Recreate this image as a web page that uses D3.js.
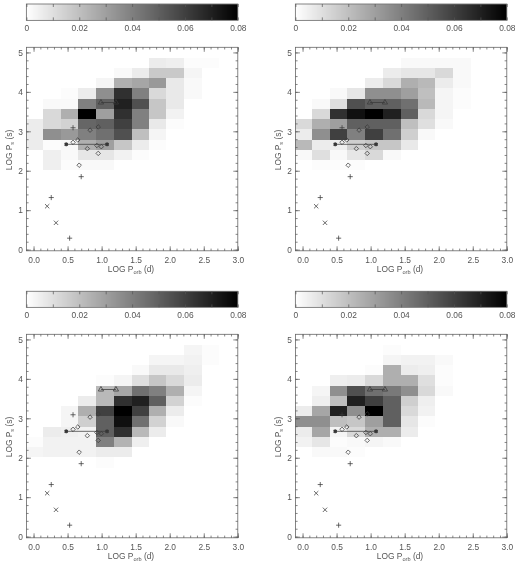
<!DOCTYPE html>
<html><head><meta charset="utf-8">
<script src="https://cdn.jsdelivr.net/npm/d3@7"></script>
<style>
html,body{margin:0;padding:0;background:#fff}
svg{display:block;filter:blur(0.4px)}
text{font-family:"Liberation Sans",Arial,sans-serif;fill:#555;font-size:8.4px}
</style></head><body>
<svg id="c" width="520" height="564"></svg>
<script>
// bin edges in data units (columns: LOG Porb, rows: LOG Ps, top row first)
const xEdges=[-0.11,0.146,0.404,0.66,0.92,1.18,1.44,1.69,1.95,2.21,2.47,2.72];
const yEdges=[4.87,4.61,4.35,4.09,3.83,3.57,3.31,3.05,2.79,2.53,2.27,2.01,1.75];
const barTicks=[0,0.02,0.04,0.06,0.08];
const xTickLabels=[0,0.5,1,1.5,2,2.5,3];
const yTickLabels=[0,1,2,3,4,5];
// fractions read from grey level of each cell
const heatA=[
[0,0,0,0,0,0,0,.006,.005,.001,.001],
[0,0,0,0,0,.002,.006,.017,.017,.003,0],
[0,0,0,0,.003,.025,.028,.032,.007,.002,0],
[0,0,.001,.006,.035,.065,.04,.012,.007,.002,0],
[0,.002,.002,.04,.05,.07,.055,.018,.007,0,0],
[0,.012,.025,.08,.03,.065,.04,.018,.004,0,0],
[.006,.012,.014,.048,.05,.06,.04,.007,.001,0,0],
[.006,.035,.032,.04,.045,.055,.02,.003,0,0,0],
[.006,.001,.002,.025,.03,.018,.006,.001,0,0,0],
[0,.005,.002,.008,.008,.004,.001,0,0,0,0],
[0,.005,.001,.002,.002,0,0,0,0,0,0],
[0,0,0,0,0,0,0,0,0,0,0]];
const heatB=[
[0,0,0,0,0,0,.002,.002,.002,.002,0],
[0,0,0,0,0,.006,.008,.008,.012,.002,0],
[0,0,0,0,.006,.012,.025,.022,.006,.002,0],
[0,0,.002,.008,.035,.035,.03,.02,.003,.001,0],
[0,.002,.01,.055,.05,.05,.045,.022,.003,.001,0],
[0,.012,.065,.075,.08,.07,.05,.012,.003,0,0],
[.012,.025,.03,.05,.05,.05,.02,.01,.002,0,0],
[.006,.035,.06,.04,.06,.045,.015,.002,0,0,0],
[.022,.006,.005,.015,.018,.018,.007,0,0,0,0],
[.002,.01,.002,.008,.012,.002,0,0,0,0,0],
[0,.001,.001,.001,0,0,0,0,0,0,0],
[0,0,0,0,0,0,0,0,0,0,0]];
const heatC=[
[0,0,0,0,0,0,0,0,0,.003,.001],
[0,0,0,0,0,0,0,.003,.003,.004,.001],
[0,0,0,0,0,0,.002,.007,.007,.005,0],
[0,0,0,0,.001,.003,.01,.018,.012,.006,0],
[0,0,0,0,.022,.028,.045,.04,.025,.003,0],
[0,0,0,.006,.022,.065,.07,.05,.014,.001,0],
[0,0,.003,.025,.06,.08,.06,.025,.006,0,0],
[0,0,.003,.015,.05,.075,.045,.014,.002,0,0],
[0,.006,.005,.004,.05,.065,.022,.006,0,0,0],
[.001,.004,.004,.004,.04,.024,.005,0,0,0,0],
[.003,.004,.004,.004,.006,.006,0,0,0,0,0],
[0,0,0,0,.001,0,0,0,0,0,0]];
const heatD=[
[0,0,0,0,0,.001,0,0,0,0,0],
[0,0,0,0,0,.003,.004,.004,.002,0,0],
[0,0,0,0,.001,.025,.006,.005,.001,0,0],
[0,0,.005,.006,.012,.025,.025,.01,.001,0,0],
[0,.003,.035,.055,.045,.042,.035,.012,.002,0,0],
[0,.005,.02,.07,.06,.05,.015,.005,0,0,0],
[.006,.028,.07,.035,.08,.05,.012,.004,0,0,0],
[.035,.035,.02,.018,.03,.05,.008,.001,0,0,0],
[.006,.028,.003,.012,.025,.025,.006,0,0,0,0],
[.004,.008,.001,.002,.003,.002,0,0,0,0,0],
[0,.002,.002,.001,0,0,0,0,0,0,0],
[0,0,0,0,0,0,0,0,0,0,0]];
const panelHeats=[heatA,heatB,heatC,heatD];
// object markers, [LOG Porb, LOG Ps]
const diamonds=[[.58,2.72],[.65,2.78],[.83,3.03],[.95,3.11],[.79,2.56],[.93,2.64],[.995,2.61],[.95,2.44],[.67,2.14]];
const pluses=[[.58,3.09],[.70,1.85],[.26,1.32],[.53,.29]];
const crosses=[[.2,1.1],[.33,.68]];
const triangles=[[.99,3.73],[1.21,3.73]];
const stars=[[.48,2.67],[1.08,2.67]];

const svg=d3.select("#c");
const ink="#555";
const gray=d3.scaleLinear().domain([0,.08]).range(["#ffffff","#000000"]);
const panelOrigins=[[0,0],[269,0],[0,287],[269,287]];

function minorTicks(a,b,s){return d3.range(Math.round((b-a)/s)+1).map(i=>+(a+i*s).toFixed(3));}
function styleAxis(g){g.select(".domain").remove();g.selectAll("line").attr("stroke",ink).attr("stroke-width",.7);}

panelHeats.forEach((heat,pi)=>{
  const [ox,oy]=panelOrigins[pi];
  const g=svg.append("g").attr("transform",`translate(${ox},${oy})`);
  const L=26.4,R=237.8,T=47.3,B=250.8;
  const x=d3.scaleLinear().domain([-0.105,3.0]).range([L,R]);
  const y=d3.scaleLinear().domain([-0.03,5.13]).range([B,T]);

  // colour bar
  const barX=d3.scaleLinear().domain([0,.08]).range([L,R]);
  const barT=4-(pi>1?-0.3:0),barB=20.4;
  const pxCols=d3.range(Math.floor(L),Math.ceil(R));
  g.append("g").attr("shape-rendering","crispEdges").selectAll("rect").data(pxCols).join("rect")
    .attr("x",d=>d).attr("y",barT).attr("width",1)
    .attr("height",barB-barT).attr("fill",d=>gray(Math.min(.08,Math.max(0,barX.invert(d+.5)))));
  g.append("rect").attr("x",L).attr("y",barT).attr("width",R-L).attr("height",barB-barT)
    .attr("fill","none").attr("stroke","#777").attr("stroke-width",.9);
  const bar=g.append("g").attr("transform",`translate(0,${barB})`)
    .call(d3.axisBottom(barX).tickValues(barTicks).tickSize(0).tickPadding(4.5).tickFormat(d=>d===0?"0":d3.format(".2f")(d)));
  styleAxis(bar);
  bar.selectAll("text").attr("dy","0.71em");
  [[d3.axisBottom,barT,3],[d3.axisTop,barB,3]].forEach(([ax,yy,s])=>{
    const t=g.append("g").attr("transform",`translate(0,${yy})`)
      .call(ax(barX).tickValues(minorTicks(0,.08,.01)).tickSize(s).tickFormat(""));
    styleAxis(t);
  });

  // heat map
  const cells=[];
  heat.forEach((row,r)=>row.forEach((v,c)=>{if(v>0)cells.push({r,c,v});}));
  g.append("g").attr("shape-rendering","crispEdges").selectAll("rect").data(cells).join("rect")
    .attr("x",d=>x(xEdges[d.c])).attr("width",d=>x(xEdges[d.c+1])-x(xEdges[d.c]))
    .attr("y",d=>y(yEdges[d.r])).attr("height",d=>y(yEdges[d.r+1])-y(yEdges[d.r]))
    .attr("fill",d=>gray(d.v));

  // frame and axes
  g.append("rect").attr("x",L).attr("y",T).attr("width",R-L).attr("height",B-T)
    .attr("fill","none").attr("stroke","#666").attr("stroke-width",.8);
  const xMajor=xTickLabels, xMinor=minorTicks(0,3,.1), yMajor=yTickLabels, yMinor=minorTicks(0,5,.2);
  const bot=g.append("g").attr("transform",`translate(0,${B})`)
    .call(d3.axisBottom(x).tickValues(xMajor).tickSize(0).tickPadding(6).tickFormat(d3.format(".1f")));
  styleAxis(bot);
  const left=g.append("g").attr("transform",`translate(${L},0)`)
    .call(d3.axisLeft(y).tickValues(yMajor).tickSize(0).tickPadding(3.5).tickFormat(d3.format("d")));
  styleAxis(left);
  const tickSets=[
    [d3.axisTop(x),`translate(0,${B})`,xMajor,4.5],[d3.axisTop(x),`translate(0,${B})`,xMinor,2.2],
    [d3.axisBottom(x),`translate(0,${T})`,xMajor,4.5],[d3.axisBottom(x),`translate(0,${T})`,xMinor,2.2],
    [d3.axisRight(y),`translate(${L},0)`,yMajor,4.5],[d3.axisRight(y),`translate(${L},0)`,yMinor,2.2],
    [d3.axisLeft(y),`translate(${R},0)`,yMajor,4.5],[d3.axisLeft(y),`translate(${R},0)`,yMinor,2.2]];
  tickSets.forEach(([ax,tr,vals,s])=>{
    styleAxis(g.append("g").attr("transform",tr).call(ax.tickValues(vals).tickSize(s).tickFormat("")));
  });

  // labels
  const xl=g.append("text").attr("x",131).attr("y",272).attr("text-anchor","middle");
  xl.append("tspan").text("LOG P");
  xl.append("tspan").attr("dy",1.8).attr("font-size",5.6).text("orb");
  xl.append("tspan").attr("dy",-1.8).text(" (d)");
  const yl=g.append("text").attr("transform",`translate(12,${150}) rotate(-90)`).attr("text-anchor","middle");
  yl.append("tspan").text("LOG P");
  yl.append("tspan").attr("dy",1.8).attr("font-size",5.6).text("s");
  yl.append("tspan").attr("dy",-1.8).text(" (s)");

  // markers
  const mk=g.append("g").attr("fill","none").attr("stroke","#3a3a3a").attr("stroke-width",.75);
  mk.append("path").attr("d",d3.line().x(d=>x(d[0])).y(d=>y(d[1]))(triangles));
  mk.append("path").attr("d",d3.line().x(d=>x(d[0])).y(d=>y(d[1]))(stars));
  const sym=(data,type,size,fill)=>mk.append("g").selectAll("path").data(data).join("path")
    .attr("transform",d=>`translate(${x(d[0])},${y(d[1])})`)
    .attr("d",d3.symbol().type(type).size(size)).attr("fill",fill||"none");
  sym(diamonds,d3.symbolDiamond2,13);
  sym(pluses,d3.symbolPlus,10);
  sym(crosses,d3.symbolX,14);
  sym(triangles,d3.symbolTriangle2,20);
  sym(stars,d3.symbolSquare,6,"#222");
  sym(stars,d3.symbolAsterisk,12);
});
</script>
</body></html>
